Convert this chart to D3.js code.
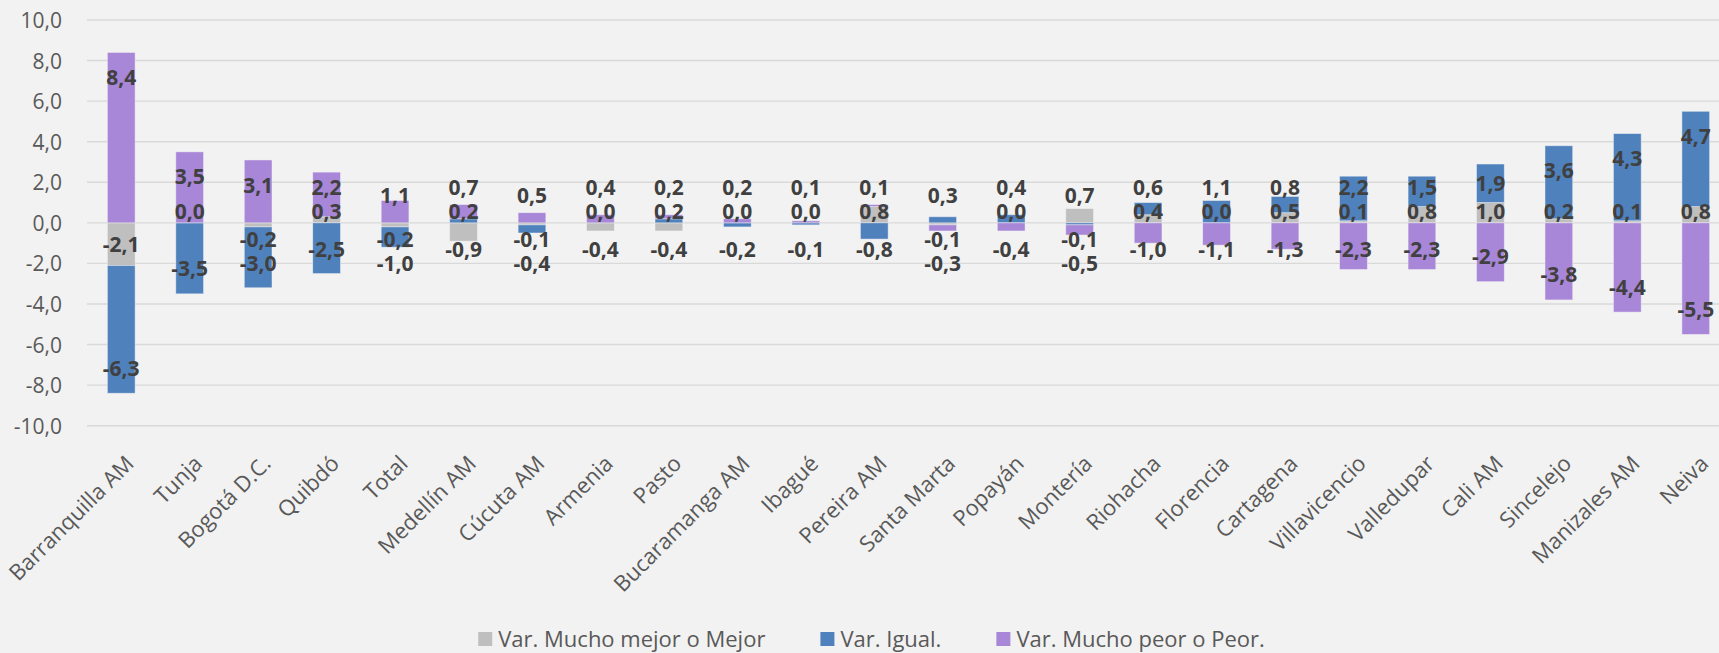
<!DOCTYPE html>
<html>
<head>
<meta charset="utf-8">
<script src="https://cdn.jsdelivr.net/npm/d3@7"></script>
<style>
  html, body { margin: 0; padding: 0; background: #F2F2F2; }
  svg { display: block; }
  text { font-family: "Open Sans", "Noto Sans", sans-serif; }
</style>
</head>
<body>
<svg id="chart" width="1719" height="653"></svg>
<script>
// ---- Data ----
const categories = ["Barranquilla AM", "Tunja", "Bogotá D.C.", "Quibdó", "Total", "Medellín AM",
  "Cúcuta AM", "Armenia", "Pasto", "Bucaramanga AM", "Ibagué", "Pereira AM", "Santa Marta",
  "Popayán", "Montería", "Riohacha", "Florencia", "Cartagena", "Villavicencio", "Valledupar",
  "Cali AM", "Sincelejo", "Manizales AM", "Neiva"];
const seriesNames = ["Var. Mucho mejor o Mejor", "Var. Igual.", "Var. Mucho peor o Peor."];
const mejor = [-2.1, 0.0, -0.2, 0.3, -0.2, -0.9, -0.1, -0.4, -0.4, 0.0, 0.0, 0.8,
  -0.1, 0.0, 0.7, 0.4, 0.0, 0.5, 0.1, 0.8, 1.0, 0.2, 0.1, 0.8];
const igual = [-6.3, -3.5, -3.0, -2.5, -1.0, 0.2, -0.4, 0.0, 0.2, -0.2, -0.1, -0.8,
  0.3, 0.4, -0.1, 0.6, 1.1, 0.8, 2.2, 1.5, 1.9, 3.6, 4.3, 4.7];
const peor = [8.4, 3.5, 3.1, 2.2, 1.1, 0.7, 0.5, 0.4, 0.2, 0.2, 0.1, 0.1,
  -0.3, -0.4, -0.5, -1.0, -1.1, -1.3, -2.3, -2.3, -2.9, -3.8, -4.4, -5.5];
const yTicks = [-10, -8, -6, -4, -2, 0, 2, 4, 6, 8, 10];

// ---- Styles ----
const keys = ["mejor", "igual", "peor"];
const colors = { mejor: "#BFBFBF", igual: "#4F81BD", peor: "#A886D8" };
const W = 1719, H = 653, chartW = 1743;

const loc = d3.formatLocale({ decimal: ",", thousands: ".", grouping: [3], currency: ["", ""], minus: "-" });
const fmt = loc.format(".1f");

const rows = categories.map((c, i) => ({ cat: c, mejor: mejor[i], igual: igual[i], peor: peor[i] }));
const stacked = d3.stack().keys(keys).offset(d3.stackOffsetDiverging)(rows);

const x = d3.scaleBand().domain(categories).range([87, 1730]).paddingInner(0.595).paddingOuter(0.2975);
const y = d3.scaleLinear().domain([-10, 10]).range([425.7, 20]);

const svg = d3.select("#chart");
svg.append("rect").attr("width", W).attr("height", H).attr("fill", "#F2F2F2");

// Gridlines
svg.append("g").selectAll("line").data(yTicks).join("line")
  .attr("x1", 87).attr("x2", 1730)
  .attr("y1", d => y(d)).attr("y2", d => y(d))
  .attr("stroke", "#D9D9D9").attr("stroke-width", 1.4);

// Y axis via d3 axis
const yAxis = d3.axisLeft(y).tickValues(yTicks).tickFormat(fmt).tickSize(0).tickPadding(0);
const gy = svg.append("g").attr("transform", "translate(62,0)").call(yAxis);
gy.select(".domain").remove();
gy.selectAll("text").attr("fill", "#595959").style("font-size", "21px")
  .style("font-family", "'Open Sans', sans-serif").attr("dy", "0.36em");

// Bars
const layers = svg.append("g").selectAll("g").data(stacked).join("g")
  .attr("fill", d => colors[d.key]);
layers.selectAll("rect").data(d => d).join("rect")
  .attr("x", d => x(d.data.cat))
  .attr("width", x.bandwidth())
  .attr("y", d => y(Math.max(d[0], d[1])))
  .attr("height", d => Math.abs(y(d[0]) - y(d[1])))
  .attr("stroke", "#F2F2F2").attr("stroke-opacity", 0.6).attr("stroke-width", 0.8);

// Data labels: placed per category, avoiding overlaps
const zero = y(0);
const gap = 24;
const labels = [];
categories.forEach((cat, j) => {
  const segs = keys.map((k, si) => {
    const s = stacked[si][j];
    const v = rows[j][k];
    return { v, lo: Math.min(s[0], s[1]), hi: Math.max(s[0], s[1]) };
  });
  const pos = segs.filter(s => s.v >= 0);
  const neg = segs.filter(s => s.v < 0);
  let prev = null;
  pos.forEach((s, i) => {
    const c = y((s.lo + s.hi) / 2);
    let d;
    if (i === pos.length - 1) d = Math.min(c, y(s.hi) + 25, zero - 27);
    else d = Math.min(c, zero - 11);
    if (prev !== null) d = Math.min(d, prev - gap);
    prev = d;
    labels.push({ cat, v: s.v, y: d });
  });
  prev = null;
  neg.forEach((s, i) => {
    const c = y((s.lo + s.hi) / 2);
    let d;
    if (i === neg.length - 1) d = Math.max(c, y(s.lo) - 25, zero + 27);
    else d = Math.max(c, zero + 17);
    if (prev !== null) d = Math.max(d, prev + gap);
    prev = d;
    labels.push({ cat, v: s.v, y: d });
  });
});
svg.append("g").selectAll("text").data(labels).join("text")
  .attr("x", d => x(d.cat) + x.bandwidth() / 2)
  .attr("y", d => d.y)
  .attr("dy", "0.36em")
  .attr("text-anchor", "middle")
  .attr("fill", "#404040")
  .style("font-size", "21px").style("font-weight", "700")
  .text(d => fmt(d.v));

// Category labels
svg.append("g").selectAll("text").data(categories).join("text")
  .attr("transform", d => `translate(${x(d) + x.bandwidth() / 2 + 14},465) rotate(-45)`)
  .attr("text-anchor", "end")
  .attr("fill", "#595959")
  .style("font-size", "22px")
  .text(d => d);

// Legend
const lg = svg.append("g");
const items = lg.selectAll("g").data(keys).join("g");
items.append("rect").attr("width", 14).attr("height", 14).attr("y", 632)
  .attr("fill", d => colors[d]);
items.append("text").attr("x", 20).attr("y", 647)
  .attr("fill", "#595959").style("font-size", "22px")
  .text((d, i) => seriesNames[i]);
let cx = 0;
const offs = [];
items.each(function () {
  offs.push(cx);
  const w = d3.select(this).select("text").node().getComputedTextLength();
  cx += 20 + w + 55;
});
const total = cx - 55;
const start = chartW / 2 - total / 2;
items.attr("transform", (d, i) => `translate(${start + offs[i]},0)`);
</script>
</body>
</html>
